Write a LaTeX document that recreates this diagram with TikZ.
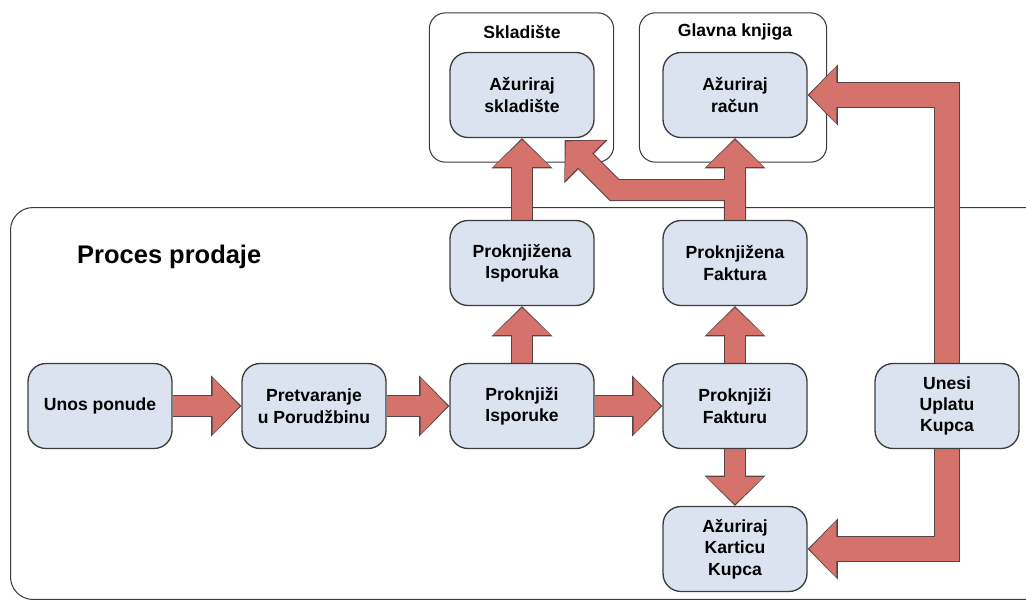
\documentclass[tikz,border=0pt]{standalone}
\usepackage{fontspec}
\setmainfont{Liberation Sans}
\usetikzlibrary{positioning,calc,fit,arrows.meta}
\definecolor{boxfill}{HTML}{DCE3F0}
\definecolor{boxline}{HTML}{3C3C3C}
\definecolor{flowred}{HTML}{D4726B}
\definecolor{flowline}{HTML}{584545}
\pgfdeclarelayer{groups}
\pgfdeclarelayer{flowback}
\pgfdeclarelayer{flowfront}
\pgfsetlayers{groups,flowback,flowfront,main}
\tikzset{
  task/.style={rectangle, rounded corners=0.36cm, draw=boxline, fill=boxfill,
               line width=0.75pt, minimum width=2.88cm, minimum height=1.7cm,
               align=center, inner sep=2pt,
               font=\fontsize{10}{12.2}\selectfont\bfseries},
  group/.style={rectangle, rounded corners=0.32cm, draw=boxline, fill=white,
                line width=0.6pt, inner sep=0pt},
  grouptitle/.style={font=\fontsize{10}{12}\selectfont\bfseries},
  flowback/.style={draw=flowline, line width=#1+1.3pt, line join=miter,
                   -{Triangle[width=34.8pt, length=17.2pt, line width=0pt]}},
  flowfront/.style={draw=flowred, line width=#1, line join=miter, shorten >=1pt,
                    -{Triangle[width=32.4pt, length=15.4pt, line width=0pt]}},
}
% one block arrow = dark outline layer + red layer
\newcommand{\flow}[2][11.3pt]{%
  \begin{pgfonlayer}{flowback}\draw[flowback=#1] #2;\end{pgfonlayer}%
  \begin{pgfonlayer}{flowfront}\draw[flowfront=#1] #2;\end{pgfonlayer}%
}

\begin{document}
\begin{tikzpicture}[x=0.02cm, y=-0.02cm]
  \useasboundingbox (0,0) rectangle (1026,605);

  % --- tasks ---------------------------------------------------------------
  \node[task] (ponuda)     at (100,406) {Unos ponude};
  \node[task] (porudzbina) at (314,406) {Pretvaranje\\u Porudžbinu};
  \node[task] (isporuke)   at (522,406) {Proknjiži\\Isporuke};
  \node[task] (fakturu)    at (735,406) {Proknjiži\\Fakturu};
  \node[task] (uplata)     at (947,406) {Unesi\\Uplatu\\Kupca};
  \node[task] (isporuka)   at (522,263) {Proknjižena\\Isporuka};
  \node[task] (faktura)    at (735,263) {Proknjižena\\Faktura};
  \node[task] (kartica)    at (735,549) {Ažuriraj\\Karticu\\Kupca};
  \node[task] (skladiste)  at (522,95)  {Ažuriraj\\skladište};
  \node[task] (racun)      at (735,95)  {Ažuriraj\\račun};

  % --- groups --------------------------------------------------------------
  \node[grouptitle] (skladiste-title) at ($(skladiste.north)+(0,-20)$) {Skladište};
  \node[grouptitle] (racun-title) at ($(racun.north)+(0,-20)$) {Glavna knjiga};
  \node[grouptitle, font=\fontsize{14.5}{17}\selectfont\bfseries, anchor=west]
    (prodaja-title) at (71,257) {Proces prodaje};
  \begin{pgfonlayer}{groups}
    \node[group, fit={($(skladiste.south west)+(-20,24)$) ($(skladiste.north east)+(19,-39)$)}]
      (skladiste-grp) {};
    \node[group, fit={($(racun.south west)+(-23,24)$) ($(racun.north east)+(19,-39)$)}]
      (racun-grp) {};
    \node[group, rounded corners=0.45cm, anchor=north west,
          minimum width=21.2cm, minimum height=7.84cm] (prodaja-grp) at (10,207) {};
  \end{pgfonlayer}

  % --- flow ----------------------------------------------------------------
  \coordinate (skladiste-in) at ($(skladiste.south east)+(-30,2)$);
  \coordinate (knee) at ($(skladiste-in)+(50,50)$);

  \flow{(ponuda.east) -- (porudzbina.west)}
  \flow{(porudzbina.east) -- (isporuke.west)}
  \flow{(isporuke.east) -- (fakturu.west)}
  \flow{(isporuke.north) -- (isporuka.south)}
  \flow{(fakturu.north) -- (faktura.south)}
  \flow{(fakturu.south) -- (kartica.north)}
  \flow{(isporuka.north) -- (skladiste.south)}
  \flow{(faktura.north) -- (racun.south)}
  \flow{(faktura.north) |- (knee) -- (skladiste-in)}
  \flow[14pt]{(uplata.north) |- (racun.east)}
  \flow[14pt]{(uplata.south) |- (kartica.east)}

\end{tikzpicture}
\end{document}
